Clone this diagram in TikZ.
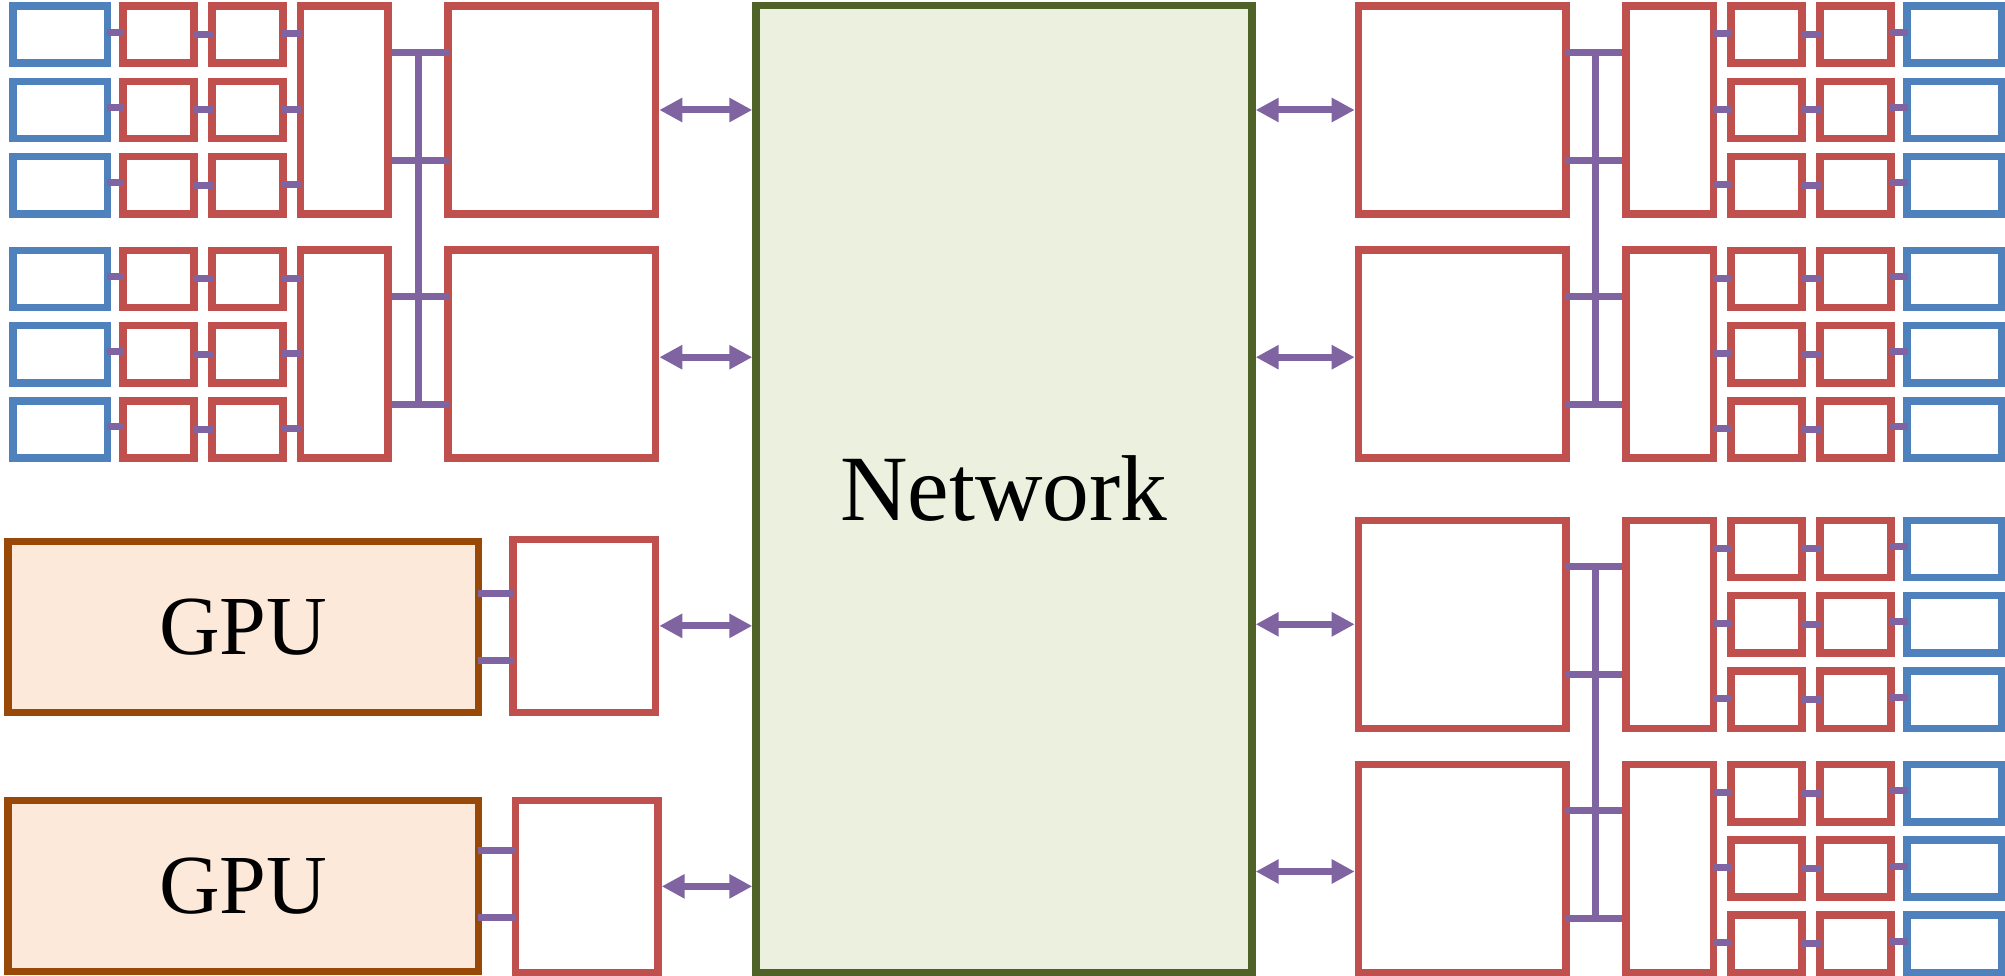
\documentclass[tikz,border=0pt]{standalone}
\usepackage{fontspec}
\setmainfont{Liberation Serif}
\usetikzlibrary{arrows.meta,calc}
\definecolor{cred}{HTML}{C0504D}
\definecolor{cblue}{HTML}{4F81BD}
\definecolor{cpur}{HTML}{8064A2}
\definecolor{cgreen}{HTML}{4F6228}
\definecolor{cgreenf}{HTML}{EBF1DE}
\definecolor{cbrown}{HTML}{984807}
\definecolor{cpeach}{HTML}{FDE9D9}
\tikzset{
  box/.style={draw, line width=7.5pt, fill=white, inner sep=0pt},
  bluebox/.style={box, draw=cblue, minimum width=94.5pt, minimum height=57.2pt},
  redsm/.style={box, draw=cred, minimum width=70.9pt, minimum height=57.2pt},
  redbox/.style={box, draw=cred},
  gpubox/.style={box, draw=cbrown, fill=cpeach},
  netbox/.style={box, draw=cgreen, fill=cgreenf},
  stub/.style={draw=cpur, line width=7pt},
  bus/.style={draw=cpur, line width=7pt},
  arr/.style={draw=cpur, line width=7pt, arrows={Triangle[length=23pt,width=23pt]-Triangle[length=23pt,width=23pt]}}
}
% #1 prefix, #2 x origin, #3 sign, #4 y offset, #5 inner anchor, #6 outer anchor, #7 back shift, #8 forward shift
\newcommand{\rack}[8]{%
  \node[redbox,minimum width=87.5pt,minimum height=207.9pt] (#1T1) at ({#2+#3*344.2},{110+#4}) {};
  \node[redbox,minimum width=87.5pt,minimum height=207.9pt] (#1T2) at ({#2+#3*344.2},{354.2+#4}) {};
  \node[redbox,minimum width=207.5pt,minimum height=207.9pt] (#1B1) at ({#2+#3*551.8},{110+#4}) {};
  \node[redbox,minimum width=207.5pt,minimum height=207.9pt] (#1B2) at ({#2+#3*551.8},{354.2+#4}) {};
  \foreach \ri/\yy/\gi in {1/34.65/1,2/110/1,3/185.35/1,4/279/2,5/354.2/2,6/429.35/2}{
    \node[bluebox] (#1b\ri) at ({#2+#3*60},{\yy+#4}) {};
    \node[redsm] (#1r\ri) at ({#2+#3*158.5},{\yy+#4}) {};
    \node[redsm] (#1s\ri) at ({#2+#3*247.5},{\yy+#4}) {};
    \draw[stub] ($(#1b\ri.#5)+(#7,2.4pt)$) -- ($(#1r\ri.#6)+(#8,2.4pt)$);
    \draw[stub] ($(#1r\ri.#5)+(#7,0pt)$) -- ($(#1s\ri.#6)+(#8,0pt)$);
    \draw[stub] ($(#1s\ri.#5)+(#7,0.7pt)$) -- ($(#1s\ri.#5 -| #1T\gi.#6)+(#8,0.7pt)$);
  }
  \coordinate (#1y1) at (0,{52.3+#4});
  \coordinate (#1y2) at (0,{160.3+#4});
  \coordinate (#1y3) at (0,{296.3+#4});
  \coordinate (#1y4) at (0,{404.3+#4});
  \draw[bus] (#1T1.#5 |- #1y1) -- ($(#1B1.#6 |- #1y1)+(#8,0pt)$);
  \draw[bus] (#1T1.#5 |- #1y2) -- ($(#1B1.#6 |- #1y2)+(#8,0pt)$);
  \draw[bus] (#1T2.#5 |- #1y3) -- ($(#1B2.#6 |- #1y3)+(#8,0pt)$);
  \draw[bus] (#1T2.#5 |- #1y4) -- ($(#1B2.#6 |- #1y4)+(#8,0pt)$);
  \coordinate (#1vt) at ({#2+#3*418.3},{52.3+#4});
  \coordinate (#1vb) at ({#2+#3*418.3},{404.3+#4});
  \draw[bus] (#1vt) -- (#1vb);
  \draw[arr] (#1B1.#5) -- (#1B1.#5 -| N.#6);
  \draw[arr] ($(#1B2.#5)+(0pt,-3pt)$) -- ($(#1B2.#5 -| N.#6)+(0pt,-3pt)$);
}
\begin{document}
\begin{tikzpicture}[x=1pt,y=-1pt]
\useasboundingbox (0,0) rectangle (2005,976);
\node[netbox, minimum width=495.9pt, minimum height=966.8pt] (N) at (1004,488.85) {\fontsize{93.5}{100}\selectfont Network};

\rack{L}{0}{1}{0}{east}{west}{-4.5pt}{4.5pt}
\rack{R}{2014}{(-1)}{0}{west}{east}{4.5pt}{-4.5pt}
\rack{Q}{2014}{(-1)}{514.3}{west}{east}{4.5pt}{-4.5pt}

\node[gpubox, minimum width=470.8pt, minimum height=170.8pt] (G1) at (243.15,626.85) {\fontsize{84}{90}\selectfont GPU};
\node[gpubox, minimum width=470.8pt, minimum height=170.8pt] (G2) at (243.15,885.85) {\fontsize{84}{90}\selectfont GPU};
\node[redbox, minimum width=142.5pt, minimum height=172.8pt] (S1) at (584.3,625.85) {};
\node[redbox, minimum width=142.5pt, minimum height=171.8pt] (S2) at (586.7,886.35) {};
\draw[stub] ($(G1.east)+(-4pt,33.5pt)$) -- ($(G1.east -| S1.west)+(4pt,33.5pt)$);
\draw[stub] ($(G1.east)+(-4pt,-33.5pt)$) -- ($(G1.east -| S1.west)+(4pt,-33.5pt)$);
\draw[stub] ($(G2.east)+(-4pt,35.8pt)$) -- ($(G2.east -| S2.west)+(4pt,35.8pt)$);
\draw[stub] ($(G2.east)+(-4pt,-31.2pt)$) -- ($(G2.east -| S2.west)+(4pt,-31.2pt)$);
\draw[arr] (S1.east) -- (S1.east -| N.west);
\draw[arr] (S2.east) -- (S2.east -| N.west);
\end{tikzpicture}
\end{document}
